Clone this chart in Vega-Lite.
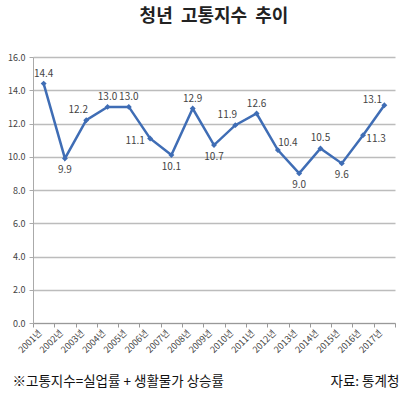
{
  "$schema": "https://vega.github.io/schema/vega-lite/v6.json",
  "width": 362,
  "height": 266,
  "autosize": "none",
  "padding": {"left": 33, "top": 57, "right": 15, "bottom": 71},
  "background": "white",
  "config": {"view": {"stroke": null}, "font": "Noto Sans CJK KR"},
  "title": {"text": "청년\u00a0\u00a0고통지수\u00a0\u00a0추이", "font": "Noto Sans CJK KR", "fontSize": 18, "fontWeight": "bold", "color": "#222222", "anchor": "middle", "offset": 27},
  "data": {"values": [
    {"year": "2001년", "value": 14.4},
    {"year": "2002년", "value": 9.9},
    {"year": "2003년", "value": 12.2},
    {"year": "2004년", "value": 13.0},
    {"year": "2005년", "value": 13.0},
    {"year": "2006년", "value": 11.1},
    {"year": "2007년", "value": 10.1},
    {"year": "2008년", "value": 12.9},
    {"year": "2009년", "value": 10.7},
    {"year": "2010년", "value": 11.9},
    {"year": "2011년", "value": 12.6},
    {"year": "2012년", "value": 10.4},
    {"year": "2013년", "value": 9.0},
    {"year": "2014년", "value": 10.5},
    {"year": "2015년", "value": 9.6},
    {"year": "2016년", "value": 11.3},
    {"year": "2017년", "value": 13.1}
  ]},
  "encoding": {
    "x": {"field": "year", "type": "ordinal", "sort": null,
      "scale": {"type": "band", "paddingInner": 0, "paddingOuter": 0},
      "axis": {"labelAngle": -45, "labelAlign": "right", "labelBaseline": "middle", "labelFontSize": 9, "labelColor": "#444444", "labelPadding": 4, "labelOffset": -4,
        "tickBand": "extent", "tickSize": 4, "tickColor": "#999999", "domainColor": "#999999", "grid": false,
        "title": "※고통지수=실업률 + 생활물가 상승률", "titleX": -21, "titleY": 58, "titleAlign": "left", "titleAnchor": "start", "titleBaseline": "middle", "titleFontSize": 13.5, "titleFontWeight": "normal", "titleColor": "#111111"}},
    "y": {"field": "value", "type": "quantitative",
      "scale": {"domain": [0, 16], "nice": false, "zero": true},
      "axis": {"values": [0, 2, 4, 6, 8, 10, 12, 14, 16], "format": ".1f", "labelFontSize": 9, "labelColor": "#444444", "labelPadding": 4,
        "grid": true, "gridColor": "#bcbcbc", "gridWidth": 1.5, "domainColor": "#aaaaaa", "tickSize": 4, "tickColor": "#aaaaaa",
        "title": "자료: 통계청", "titleAngle": 0, "titleX": 297, "titleY": 324, "titleAlign": "left", "titleBaseline": "middle", "titleFontSize": 13.5, "titleFontWeight": "normal", "titleColor": "#111111"}}
  },
  "layer": [
    {"mark": {"type": "line", "color": "#3f6db5", "strokeWidth": 2.5}},
    {"mark": {"type": "point", "shape": "diamond", "filled": true, "size": 35, "color": "#3f6db5", "opacity": 1}},
    {"transform": [{"filter": {"field": "year", "oneOf": ["2001년", "2004년", "2005년", "2008년", "2011년", "2014년"]}}],
     "mark": {"type": "text", "dy": -10, "fontSize": 10, "color": "#444444"},
     "encoding": {"text": {"field": "value", "type": "quantitative", "format": ".1f"}}},
    {"transform": [{"filter": {"field": "year", "oneOf": ["2002년", "2007년", "2009년", "2013년", "2015년"]}}],
     "mark": {"type": "text", "dy": 12, "fontSize": 10, "color": "#444444"},
     "encoding": {"text": {"field": "value", "type": "quantitative", "format": ".1f"}}},
    {"transform": [{"filter": {"field": "year", "oneOf": ["2003년", "2010년"]}}],
     "mark": {"type": "text", "dx": -8, "dy": -10, "fontSize": 10, "color": "#444444"},
     "encoding": {"text": {"field": "value", "type": "quantitative", "format": ".1f"}}},
    {"transform": [{"filter": {"field": "year", "oneOf": ["2017년"]}}],
     "mark": {"type": "text", "dx": -12, "dy": -5, "fontSize": 10, "color": "#444444"},
     "encoding": {"text": {"field": "value", "type": "quantitative", "format": ".1f"}}},
    {"transform": [{"filter": {"field": "year", "oneOf": ["2012년"]}}],
     "mark": {"type": "text", "dx": 10, "dy": -7, "fontSize": 10, "color": "#444444"},
     "encoding": {"text": {"field": "value", "type": "quantitative", "format": ".1f"}}},
    {"transform": [{"filter": {"field": "year", "oneOf": ["2006년"]}}],
     "mark": {"type": "text", "dx": -15, "dy": 3, "fontSize": 10, "color": "#444444"},
     "encoding": {"text": {"field": "value", "type": "quantitative", "format": ".1f"}}},
    {"transform": [{"filter": {"field": "year", "oneOf": ["2016년"]}}],
     "mark": {"type": "text", "dx": 13, "dy": 4, "fontSize": 10, "color": "#444444"},
     "encoding": {"text": {"field": "value", "type": "quantitative", "format": ".1f"}}}
  ]
}
